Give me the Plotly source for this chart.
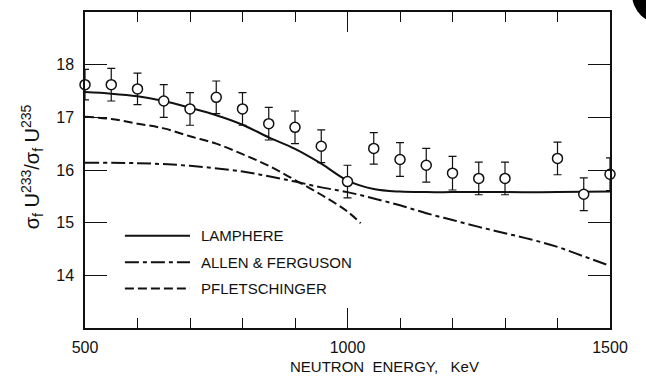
import plotly.graph_objects as go

# Measured fission cross-section ratio (points with error bars)
energy_pts = [500, 550, 600, 650, 700, 750, 800, 850, 900, 950, 1000,
              1050, 1100, 1150, 1200, 1250, 1300, 1400, 1450, 1500]
ratio_pts = [17.62, 17.62, 17.54, 17.31, 17.16, 17.38, 17.16, 16.88, 16.81, 16.45, 15.78,
             16.41, 16.20, 16.09, 15.94, 15.84, 15.84, 16.22, 15.54, 15.92]
ratio_err = [0.29, 0.31, 0.30, 0.31, 0.31, 0.31, 0.31, 0.31, 0.31, 0.31, 0.31,
             0.30, 0.32, 0.32, 0.32, 0.31, 0.31, 0.31, 0.31, 0.31]

# Lamphere curve
lamphere_e = [500, 550, 600, 650, 700, 750, 800, 850, 900, 950, 1000, 1050, 1100,
              1150, 1200, 1300, 1400, 1500]
lamphere_r = [17.48, 17.45, 17.40, 17.31, 17.18, 17.04, 16.86, 16.62, 16.40, 16.12, 15.80,
              15.64, 15.59, 15.58, 15.58, 15.58, 15.58, 15.59]

# Allen & Ferguson curve
allen_e = [500, 600, 700, 800, 850, 900, 950, 1000, 1050, 1100, 1150, 1200, 1250,
           1300, 1350, 1400, 1450, 1500]
allen_r = [16.14, 16.13, 16.08, 15.97, 15.88, 15.78, 15.67, 15.58, 15.46, 15.33, 15.18,
           15.05, 14.92, 14.80, 14.68, 14.54, 14.36, 14.18]

# Pfletschinger curve
pflet_e = [500, 550, 600, 650, 700, 750, 800, 850, 900, 950, 1000, 1025]
pflet_r = [17.01, 16.97, 16.88, 16.79, 16.64, 16.50, 16.30, 16.08, 15.81, 15.53, 15.21, 14.99]

x_ticks = [500, 1000, 1500]
x_minor = [600, 700, 800, 900, 1100, 1200, 1300, 1400]
y_ticks = [14, 15, 16, 17, 18]

legend_names = ["LAMPHERE", "ALLEN & FERGUSON", "PFLETSCHINGER"]
legend_dash = ["solid", "14px,4px,4px,4px", "9px,4px"]
legend_y = [14.75, 14.25, 13.75]

FONT = "Liberation Sans"
INK = "#111"

fig = go.Figure()

fig.add_trace(go.Scatter(x=lamphere_e, y=lamphere_r, mode="lines", line_shape="spline",
                         line=dict(color=INK, width=2, dash=legend_dash[0]), showlegend=False))
fig.add_trace(go.Scatter(x=allen_e, y=allen_r, mode="lines", line_shape="spline",
                         line=dict(color=INK, width=2, dash=legend_dash[1]), showlegend=False))
fig.add_trace(go.Scatter(x=pflet_e, y=pflet_r, mode="lines", line_shape="spline",
                         line=dict(color=INK, width=2, dash=legend_dash[2]), showlegend=False))

fig.add_trace(go.Scatter(
    x=energy_pts, y=ratio_pts, mode="markers", cliponaxis=False, showlegend=False,
    marker=dict(symbol="circle", size=10, color="white", line=dict(color=INK, width=1.5)),
    error_y=dict(type="data", array=ratio_err, visible=True, color=INK, thickness=1.2, width=4),
))

# Legend keys and labels
for name, dash, ly in zip(legend_names, legend_dash, legend_y):
    fig.add_shape(type="line", xref="x", yref="y", x0=576, x1=700, y0=ly, y1=ly,
                  line=dict(color=INK, width=2, dash=dash))
    fig.add_annotation(x=718, y=ly, xref="x", yref="y", text=name, showarrow=False,
                       xanchor="left", yanchor="middle",
                       font=dict(family=FONT, size=15, color=INK))

# Axis titles
fig.add_annotation(x=0.387, y=-0.122, xref="paper", yref="paper",
                   text="NEUTRON  ENERGY,   KeV", showarrow=False,
                   xanchor="left", yanchor="middle",
                   font=dict(family=FONT, size=15, color=INK))
fig.add_annotation(x=-0.1, y=0.51, xref="paper", yref="paper",
                   text="σ<sub>f</sub> U<sup>233</sup>/σ<sub>f</sub> U<sup>235</sup>",
                   showarrow=False, textangle=-90, xanchor="center", yanchor="middle",
                   font=dict(family=FONT, size=20, color=INK))

# Dark spot at the upper right corner of the page
fig.add_shape(type="circle", xref="paper", yref="paper",
              x0=1.0419, x1=1.1562, y0=0.9623, y1=1.1509,
              fillcolor="black", line=dict(color="black", width=0), layer="above")

axis_common = dict(showline=True, linecolor=INK, linewidth=1.5, mirror="allticks",
                   ticks="inside", tickcolor=INK, tickwidth=1.2, showgrid=False,
                   zeroline=False, tickfont=dict(family=FONT, size=16, color=INK))

fig.update_xaxes(range=[500, 1500], tickmode="array", tickvals=x_ticks,
                 ticktext=[str(v) for v in x_ticks], ticklen=20, ticklabelstandoff=4,
                 minor=dict(tickmode="array", tickvals=x_minor, ticks="inside", ticklen=10,
                            tickcolor=INK, tickwidth=1.2),
                 **axis_common)
fig.update_yaxes(range=[13, 19], tickmode="array", tickvals=y_ticks,
                 ticktext=[str(v) for v in y_ticks], ticklen=22, ticklabelstandoff=6,
                 **axis_common)

fig.update_layout(width=646, height=376, margin=dict(l=85, r=36, t=10, b=48),
                  paper_bgcolor="white", plot_bgcolor="white")

fig.write_html("out.html")
